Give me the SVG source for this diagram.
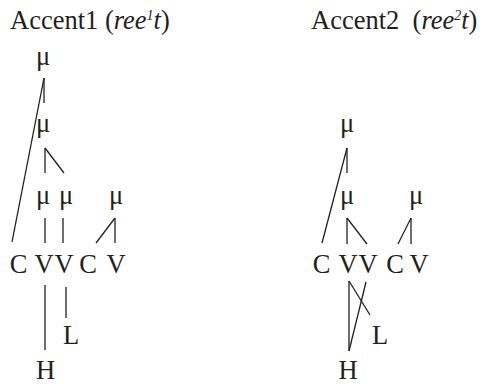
<svg xmlns="http://www.w3.org/2000/svg" width="486" height="384" viewBox="0 0 486 384">
<style>
text{font-family:"Liberation Serif","Times New Roman",serif;font-size:26.5px;fill:#231f20}
.i{font-style:italic}
.sup{font-size:14px;font-style:italic}
.m{text-anchor:start}
.c{text-anchor:middle}
#connectors line{stroke:#231f20;stroke-width:1.3;fill:none}
</style>
<rect width="486" height="384" fill="#fff"/>
<g id="title1"><text x="10" y="29" xml:space="preserve">Accent1 (<tspan class="i">ree</tspan><tspan class="sup" dy="-9">1</tspan><tspan class="i" dy="9">t</tspan>)</text></g>
<g id="title2"><text x="311" y="29" xml:space="preserve">Accent2  (<tspan class="i">ree</tspan><tspan class="sup" dy="-9">2</tspan><tspan class="i" dy="9">t</tspan>)</text></g>

<g id="connectors">
<line x1="44" y1="78" x2="44" y2="103"/>
<line x1="44" y1="78" x2="12" y2="242"/>
<line x1="45" y1="148" x2="45" y2="173"/>
<line x1="45" y1="148" x2="64" y2="173"/>
<line x1="45" y1="218" x2="45" y2="243"/>
<line x1="63" y1="218" x2="63" y2="243"/>
<line x1="115" y1="218" x2="115" y2="243"/>
<line x1="115" y1="218" x2="96" y2="243"/>
<line x1="45" y1="285" x2="45" y2="350"/>
<line x1="66" y1="287" x2="66" y2="318"/>
<line x1="347" y1="148" x2="347" y2="173"/>
<line x1="347" y1="148" x2="322" y2="243"/>
<line x1="347" y1="218" x2="347" y2="244"/>
<line x1="347" y1="218" x2="367" y2="244"/>
<line x1="411" y1="218" x2="411" y2="244"/>
<line x1="411" y1="218" x2="398" y2="244"/>
<line x1="349" y1="281" x2="349" y2="351"/>
<line x1="349" y1="281" x2="370" y2="315"/>
<line x1="366" y1="282" x2="349" y2="351"/>
</g>

<g id="L-mu1"><text class="m" x="36" y="65">μ</text></g>
<g id="L-mu2"><text class="m" x="36" y="132">μ</text></g>
<g id="L-mu3a"><text class="m" x="36" y="204">μ</text></g>
<g id="L-mu3b"><text class="m" x="59" y="204">μ</text></g>
<g id="L-mu3c"><text class="m" x="109" y="204">μ</text></g>
<g id="L-C1"><text class="c" x="18.5" y="273">C</text></g>
<g id="L-V1"><text class="c" x="44" y="273">V</text></g>
<g id="L-V2"><text class="c" x="64" y="273">V</text></g>
<g id="L-C2"><text class="c" x="88" y="273">C</text></g>
<g id="L-V3"><text class="c" x="116" y="273">V</text></g>
<g id="L-L"><text x="63" y="344">L</text></g>
<g id="L-H"><text class="c" x="45.5" y="379">H</text></g>

<g id="R-mu1"><text class="m" x="340" y="132">μ</text></g>
<g id="R-mu2"><text class="m" x="340" y="204">μ</text></g>
<g id="R-mu3"><text class="m" x="409" y="204">μ</text></g>
<g id="R-C1"><text class="c" x="321.5" y="273">C</text></g>
<g id="R-V1"><text class="c" x="348" y="273">V</text></g>
<g id="R-V2"><text class="c" x="368" y="273">V</text></g>
<g id="R-C2"><text class="c" x="395" y="273">C</text></g>
<g id="R-V3"><text class="c" x="419" y="273">V</text></g>
<g id="R-L"><text x="372" y="344">L</text></g>
<g id="R-H"><text class="c" x="348" y="379">H</text></g>
</svg>
